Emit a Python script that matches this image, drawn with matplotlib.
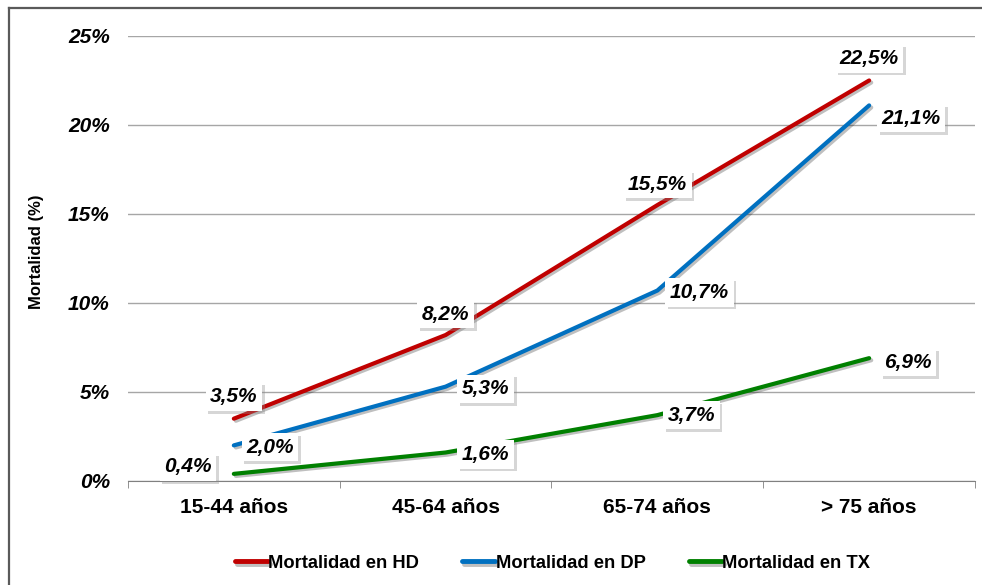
import matplotlib.pyplot as plt
import matplotlib.patheffects as pe
from matplotlib.lines import Line2D

plt.rcParams['font.family'] = ['Liberation Sans', 'DejaVu Sans']

grupos = ['15-44 años', '45-64 años', '65-74 años', '> 75 años']
mort_hd = [3.5, 8.2, 15.5, 22.5]
mort_dp = [2.0, 5.3, 10.7, 21.1]
mort_tx = [0.4, 1.6, 3.7, 6.9]
yticks = [0, 5, 10, 15, 20, 25]

series = [
    ('Mortalidad en HD', mort_hd, '#C00000', [(0, 22), (0, 21), (0, 21), (0, 22)]),
    ('Mortalidad en DP', mort_dp, '#0070C0', [(36, -2), (40, -2), (42, -2), (42, -13)]),
    ('Mortalidad en TX', mort_tx, '#008000', [(-46, 7), (40, -2), (34, 0), (39, -4)]),
]

fig = plt.figure(figsize=(9.82, 5.85), dpi=100)
ax = fig.add_axes([0.1303, 0.1778, 0.8626, 0.7607])

x = list(range(len(grupos)))
shadow = [pe.SimpleLineShadow(offset=(1.5, -1.5), alpha=0.25), pe.Normal()]
for nombre, vals, color, offs in series:
    ax.plot(x, vals, color=color, lw=3, label=nombre,
            solid_capstyle='round', path_effects=shadow, zorder=3)

for nombre, vals, color, offs in series:
    for xi, v, (dx, dy) in zip(x, vals, offs):
        txt = f'{v:.1f}%'.replace('.', ',')
        t = ax.annotate(txt, (xi, v), xytext=(dx, dy), textcoords='offset pixels',
                        ha='center', va='center', fontsize=15, fontweight='bold',
                        fontstyle='italic', color='black', zorder=5,
                        bbox=dict(boxstyle='square,pad=0.22', fc='white', ec='none'))
        t.get_bbox_patch().set_path_effects(
            [pe.SimplePatchShadow(offset=(2, -2), shadow_rgbFace='#8C8C8C', alpha=0.35),
             pe.Normal()])

ax.set_xlim(-0.5, len(grupos) - 0.5)
ax.set_ylim(0, 25)
ax.set_yticks(yticks)
ax.set_yticklabels([f'{t}%' for t in yticks], fontsize=15, fontweight='bold', fontstyle='italic')
ax.tick_params(axis='y', length=0, pad=13)

ax.set_xticks(x)
ax.set_xticklabels(grupos, fontsize=15, fontweight='bold')
ax.set_xticks([i - 0.5 for i in range(len(grupos) + 1)], minor=True)
ax.tick_params(axis='x', which='major', length=0, pad=12)
ax.tick_params(axis='x', which='minor', length=5, color='#808080', direction='out')

ax.grid(axis='y', color='#A6A6A6', lw=1)
ax.set_axisbelow(True)
for s in ['top', 'right', 'left']:
    ax.spines[s].set_visible(False)
ax.spines['bottom'].set_color('#808080')

ax.set_ylabel('Mortalidad (%)', fontsize=12, fontweight='bold')
ax.yaxis.set_label_coords(-0.099, 0.515)

leg = fig.legend(loc='center', bbox_to_anchor=(0.5626, 0.037), ncol=3, frameon=False,
                 prop={'size': 13.2, 'weight': 'bold'},
                 handlelength=1.8, handletextpad=0.02, columnspacing=2.35)
for h in leg.get_lines():
    h.set_linewidth(3.5)

# marco exterior
fig.add_artist(Line2D([9 / 982, 9 / 982], [0, 1 - 8 / 585], color='#5A5A5A', lw=1.6,
                      transform=fig.transFigure))
fig.add_artist(Line2D([9 / 982, 1], [1 - 8 / 585, 1 - 8 / 585], color='#5A5A5A', lw=1.6,
                      transform=fig.transFigure))

fig.savefig('out.png', dpi=100)
